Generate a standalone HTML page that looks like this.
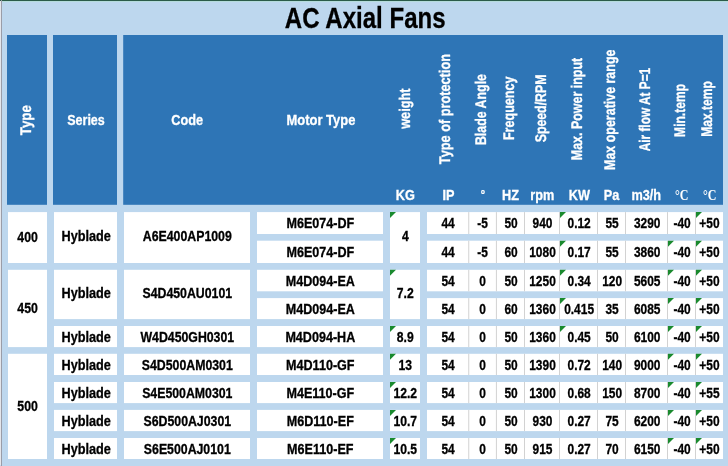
<!DOCTYPE html>
<html lang="en"><head><meta charset="utf-8"><title>AC Axial Fans</title>
<style>
html,body{margin:0;padding:0;background:#BDD7EE;}
body{width:728px;height:466px;overflow:hidden;}
svg{display:block;will-change:transform;}
text{text-anchor:middle;}
.b{font-family:"Liberation Sans",Arial,sans-serif;font-weight:bold;stroke-width:0.3px;}
.v{text-rendering:geometricPrecision;}
.s{font-family:"Liberation Serif","Times New Roman",serif;font-weight:bold;}
</style></head><body>
<svg width="728" height="466" viewBox="0 0 728 466">
<rect x="0" y="0" width="728" height="466" fill="#BDD7EE"/>
<rect x="0" y="0" width="728" height="1" fill="#2b5b49"/>
<rect x="0" y="1" width="728" height="1" fill="#b5dcdc"/>
<rect x="0" y="1" width="1" height="464" fill="#e4e6ec"/>
<rect x="1" y="0" width="1" height="466" fill="#9a9da8"/>
<rect x="7" y="35" width="40" height="169.8" fill="#2E75B6"/>
<rect x="53" y="35" width="64" height="169.8" fill="#2E75B6"/>
<rect x="123.2" y="35" width="599.8" height="169.8" fill="#2E75B6"/>
<text class="b" transform="translate(365.20 27.60) scale(0.823 1)" font-size="29.2" fill="#000" stroke="#000">AC Axial Fans</text>
<text class="b" transform="translate(86.00 124.90) scale(0.847 1)" font-size="14.8" fill="#fff" stroke="#fff">Series</text>
<text class="b" transform="translate(187.10 125.30) scale(0.86 1)" font-size="14.8" fill="#fff" stroke="#fff">Code</text>
<text class="b" transform="translate(320.90 125.30) scale(0.877 1)" font-size="14.8" fill="#fff" stroke="#fff">Motor Type</text>
<text class="b v" transform="translate(31.00 120.13) rotate(-90) scale(0.8648 1)" font-size="15.4" fill="#fff" stroke="#fff">Type</text>
<text class="b v" transform="translate(409.60 108.68) rotate(-90) scale(0.8244 1)" font-size="15.4" fill="#fff" stroke="#fff">weight</text>
<text class="b v" transform="translate(450.30 109.10) rotate(-90) scale(0.8269 1)" font-size="15.4" fill="#fff" stroke="#fff">Type of protection</text>
<text class="b v" transform="translate(486.10 109.56) rotate(-90) scale(0.8035 1)" font-size="15.4" fill="#fff" stroke="#fff">Blade Angle</text>
<text class="b v" transform="translate(514.20 108.30) rotate(-90) scale(0.8169 1)" font-size="15.4" fill="#fff" stroke="#fff">Frequency</text>
<text class="b v" transform="translate(546.30 108.45) rotate(-90) scale(0.8001 1)" font-size="15.4" fill="#fff" stroke="#fff">Speed/RPM</text>
<text class="b v" transform="translate(582.10 109.01) rotate(-90) scale(0.8097 1)" font-size="15.4" fill="#fff" stroke="#fff">Max. Power input</text>
<text class="b v" transform="translate(614.70 109.75) rotate(-90) scale(0.8086 1)" font-size="15.4" fill="#fff" stroke="#fff">Max operative range</text>
<text class="b v" transform="translate(650.20 109.58) rotate(-90) scale(0.7705 1)" font-size="15.4" fill="#fff" stroke="#fff">Air flow At P=1</text>
<text class="b v" transform="translate(684.60 110.44) rotate(-90) scale(0.7839 1)" font-size="15.4" fill="#fff" stroke="#fff">Min.temp</text>
<text class="b v" transform="translate(712.40 108.95) rotate(-90) scale(0.7866 1)" font-size="15.4" fill="#fff" stroke="#fff">Max.temp</text>
<text class="b" transform="translate(405.40 199.50) scale(0.89 1)" font-size="14.3" fill="#fff" stroke="#fff">KG</text>
<text class="b" transform="translate(448.40 199.50) scale(0.89 1)" font-size="14.3" fill="#fff" stroke="#fff">IP</text>
<text class="b" transform="translate(482.80 198.60) scale(0.9 1)" font-size="12" fill="#fff" stroke="#fff">°</text>
<text class="b" transform="translate(510.60 199.50) scale(0.89 1)" font-size="14.3" fill="#fff" stroke="#fff">HZ</text>
<text class="b" transform="translate(542.20 199.50) scale(0.89 1)" font-size="14.3" fill="#fff" stroke="#fff">rpm</text>
<text class="b" transform="translate(579.40 199.50) scale(0.89 1)" font-size="14.3" fill="#fff" stroke="#fff">KW</text>
<text class="b" transform="translate(611.60 199.50) scale(0.89 1)" font-size="14.3" fill="#fff" stroke="#fff">Pa</text>
<text class="b" transform="translate(646.20 199.50) scale(0.89 1)" font-size="14.3" fill="#fff" stroke="#fff">m3/h</text>
<text class="s" transform="translate(681.75 199.5) scale(0.86 1)" font-size="14" fill="#fff">°C</text>
<text class="s" transform="translate(709.75 199.5) scale(0.86 1)" font-size="14" fill="#fff">°C</text>
<rect x="8" y="212.1" width="39" height="50.9" fill="#fff"/>
<text class="b" transform="translate(27.60 241.70) scale(0.86 1)" font-size="14.3" fill="#000" stroke="#000">400</text>
<rect x="8" y="269.8" width="39" height="77.3" fill="#fff"/>
<text class="b" transform="translate(27.60 312.60) scale(0.86 1)" font-size="14.3" fill="#000" stroke="#000">450</text>
<rect x="8" y="353.8" width="39" height="105.2" fill="#fff"/>
<text class="b" transform="translate(27.60 410.55) scale(0.86 1)" font-size="14.3" fill="#000" stroke="#000">500</text>
<rect x="54" y="212.1" width="63" height="50.9" fill="#fff"/>
<text class="b" transform="translate(86.20 241.45) scale(0.89 1)" font-size="14.3" fill="#000" stroke="#000">Hyblade</text>
<rect x="124" y="212.1" width="126" height="50.9" fill="#fff"/>
<text class="b" transform="translate(187.30 241.45) scale(0.862 1)" font-size="14.3" fill="#000" stroke="#000">A6E400AP1009</text>
<rect x="390" y="212.1" width="30" height="50.9" fill="#fff"/>
<text class="b" transform="translate(405.30 241.45) scale(0.85 1)" font-size="14.3" fill="#000" stroke="#000">4</text>
<path d="M390 212.1h6l-6 6z" fill="#1a8a2e"/>
<rect x="54" y="269.8" width="63" height="49.3" fill="#fff"/>
<text class="b" transform="translate(86.20 298.35) scale(0.89 1)" font-size="14.3" fill="#000" stroke="#000">Hyblade</text>
<rect x="124" y="269.8" width="126" height="49.3" fill="#fff"/>
<text class="b" transform="translate(187.30 298.35) scale(0.862 1)" font-size="14.3" fill="#000" stroke="#000">S4D450AU0101</text>
<rect x="390" y="269.8" width="30" height="49.3" fill="#fff"/>
<text class="b" transform="translate(405.30 298.35) scale(0.85 1)" font-size="14.3" fill="#000" stroke="#000">7.2</text>
<path d="M390 269.8h6l-6 6z" fill="#1a8a2e"/>
<rect x="54" y="326" width="63" height="21.1" fill="#fff"/>
<text class="b" transform="translate(86.20 341.65) scale(0.89 1)" font-size="14.3" fill="#000" stroke="#000">Hyblade</text>
<rect x="124" y="326" width="126" height="21.1" fill="#fff"/>
<text class="b" transform="translate(187.30 341.65) scale(0.862 1)" font-size="14.3" fill="#000" stroke="#000">W4D450GH0301</text>
<rect x="390" y="326" width="30" height="21.1" fill="#fff"/>
<text class="b" transform="translate(405.30 341.65) scale(0.85 1)" font-size="14.3" fill="#000" stroke="#000">8.9</text>
<path d="M390 326h6l-6 6z" fill="#1a8a2e"/>
<rect x="54" y="353.8" width="63" height="21.2" fill="#fff"/>
<text class="b" transform="translate(86.20 369.50) scale(0.89 1)" font-size="14.3" fill="#000" stroke="#000">Hyblade</text>
<rect x="124" y="353.8" width="126" height="21.2" fill="#fff"/>
<text class="b" transform="translate(187.30 369.50) scale(0.862 1)" font-size="14.3" fill="#000" stroke="#000">S4D500AM0301</text>
<rect x="390" y="353.8" width="30" height="21.2" fill="#fff"/>
<text class="b" transform="translate(405.30 369.50) scale(0.85 1)" font-size="14.3" fill="#000" stroke="#000">13</text>
<path d="M390 353.8h6l-6 6z" fill="#1a8a2e"/>
<rect x="54" y="382" width="63" height="21.1" fill="#fff"/>
<text class="b" transform="translate(86.20 397.65) scale(0.89 1)" font-size="14.3" fill="#000" stroke="#000">Hyblade</text>
<rect x="124" y="382" width="126" height="21.1" fill="#fff"/>
<text class="b" transform="translate(187.30 397.65) scale(0.862 1)" font-size="14.3" fill="#000" stroke="#000">S4E500AM0301</text>
<rect x="390" y="382" width="30" height="21.1" fill="#fff"/>
<text class="b" transform="translate(405.30 397.65) scale(0.85 1)" font-size="14.3" fill="#000" stroke="#000">12.2</text>
<path d="M390 382h6l-6 6z" fill="#1a8a2e"/>
<rect x="54" y="409.9" width="63" height="21.2" fill="#fff"/>
<text class="b" transform="translate(86.20 425.60) scale(0.89 1)" font-size="14.3" fill="#000" stroke="#000">Hyblade</text>
<rect x="124" y="409.9" width="126" height="21.2" fill="#fff"/>
<text class="b" transform="translate(187.30 425.60) scale(0.862 1)" font-size="14.3" fill="#000" stroke="#000">S6D500AJ0301</text>
<rect x="390" y="409.9" width="30" height="21.2" fill="#fff"/>
<text class="b" transform="translate(405.30 425.60) scale(0.85 1)" font-size="14.3" fill="#000" stroke="#000">10.7</text>
<path d="M390 409.9h6l-6 6z" fill="#1a8a2e"/>
<rect x="54" y="438" width="63" height="21" fill="#fff"/>
<text class="b" transform="translate(86.20 453.60) scale(0.89 1)" font-size="14.3" fill="#000" stroke="#000">Hyblade</text>
<rect x="124" y="438" width="126" height="21" fill="#fff"/>
<text class="b" transform="translate(187.30 453.60) scale(0.862 1)" font-size="14.3" fill="#000" stroke="#000">S6E500AJ0101</text>
<rect x="390" y="438" width="30" height="21" fill="#fff"/>
<text class="b" transform="translate(405.30 453.60) scale(0.85 1)" font-size="14.3" fill="#000" stroke="#000">10.5</text>
<path d="M390 438h6l-6 6z" fill="#1a8a2e"/>
<rect x="257" y="212.1" width="126" height="21.9" fill="#fff"/>
<text class="b" transform="translate(320.30 228.15) scale(0.88 1)" font-size="14.3" fill="#000" stroke="#000">M6E074-DF</text>
<rect x="427" y="212.1" width="296" height="21.9" fill="#fff"/>
<text class="b" transform="translate(448.07 228.15) scale(0.835 1)" font-size="14.3" fill="#000" stroke="#000">44</text>
<text class="b" transform="translate(482.57 228.15) scale(0.835 1)" font-size="14.3" fill="#000" stroke="#000">-5</text>
<text class="b" transform="translate(511.05 228.15) scale(0.835 1)" font-size="14.3" fill="#000" stroke="#000">50</text>
<text class="b" transform="translate(542.50 228.15) scale(0.835 1)" font-size="14.3" fill="#000" stroke="#000">940</text>
<text class="b" transform="translate(579.10 228.15) scale(0.835 1)" font-size="14.3" fill="#000" stroke="#000">0.12</text>
<text class="b" transform="translate(612.10 228.15) scale(0.835 1)" font-size="14.3" fill="#000" stroke="#000">55</text>
<text class="b" transform="translate(647.20 228.15) scale(0.835 1)" font-size="14.3" fill="#000" stroke="#000">3290</text>
<text class="b" transform="translate(682.10 228.15) scale(0.835 1)" font-size="14.3" fill="#000" stroke="#000">-40</text>
<text class="b" transform="translate(709.45 228.15) scale(0.835 1)" font-size="14.3" fill="#000" stroke="#000">+50</text>
<rect x="468.25" y="212.1" width="1" height="21.9" fill="#d2d2d2"/>
<rect x="495.9" y="212.1" width="1" height="21.9" fill="#d2d2d2"/>
<rect x="524" y="212.1" width="1" height="21.9" fill="#d2d2d2"/>
<rect x="559" y="212.1" width="1" height="21.9" fill="#d2d2d2"/>
<rect x="597" y="212.1" width="1" height="21.9" fill="#d2d2d2"/>
<rect x="625" y="212.1" width="1" height="21.9" fill="#d2d2d2"/>
<rect x="667" y="212.1" width="1" height="21.9" fill="#d2d2d2"/>
<rect x="695" y="212.1" width="1" height="21.9" fill="#d2d2d2"/>
<path d="M560 212.1h6l-6 6z" fill="#1a8a2e"/>
<path d="M696 212.1h6l-6 6z" fill="#1a8a2e"/>
<rect x="257" y="240.7" width="126" height="22.3" fill="#fff"/>
<text class="b" transform="translate(320.30 256.95) scale(0.88 1)" font-size="14.3" fill="#000" stroke="#000">M6E074-DF</text>
<rect x="427" y="240.7" width="296" height="22.3" fill="#fff"/>
<text class="b" transform="translate(448.07 256.95) scale(0.835 1)" font-size="14.3" fill="#000" stroke="#000">44</text>
<text class="b" transform="translate(482.57 256.95) scale(0.835 1)" font-size="14.3" fill="#000" stroke="#000">-5</text>
<text class="b" transform="translate(511.05 256.95) scale(0.835 1)" font-size="14.3" fill="#000" stroke="#000">60</text>
<text class="b" transform="translate(542.50 256.95) scale(0.835 1)" font-size="14.3" fill="#000" stroke="#000">1080</text>
<text class="b" transform="translate(579.10 256.95) scale(0.835 1)" font-size="14.3" fill="#000" stroke="#000">0.17</text>
<text class="b" transform="translate(612.10 256.95) scale(0.835 1)" font-size="14.3" fill="#000" stroke="#000">55</text>
<text class="b" transform="translate(647.20 256.95) scale(0.835 1)" font-size="14.3" fill="#000" stroke="#000">3860</text>
<text class="b" transform="translate(682.10 256.95) scale(0.835 1)" font-size="14.3" fill="#000" stroke="#000">-40</text>
<text class="b" transform="translate(709.45 256.95) scale(0.835 1)" font-size="14.3" fill="#000" stroke="#000">+50</text>
<rect x="468.25" y="240.7" width="1" height="22.3" fill="#d2d2d2"/>
<rect x="495.9" y="240.7" width="1" height="22.3" fill="#d2d2d2"/>
<rect x="524" y="240.7" width="1" height="22.3" fill="#d2d2d2"/>
<rect x="559" y="240.7" width="1" height="22.3" fill="#d2d2d2"/>
<rect x="597" y="240.7" width="1" height="22.3" fill="#d2d2d2"/>
<rect x="625" y="240.7" width="1" height="22.3" fill="#d2d2d2"/>
<rect x="667" y="240.7" width="1" height="22.3" fill="#d2d2d2"/>
<rect x="695" y="240.7" width="1" height="22.3" fill="#d2d2d2"/>
<path d="M560 240.7h6l-6 6z" fill="#1a8a2e"/>
<path d="M668 240.7h6l-6 6z" fill="#1a8a2e"/>
<path d="M696 240.7h6l-6 6z" fill="#1a8a2e"/>
<rect x="257" y="269.8" width="126" height="21.5" fill="#fff"/>
<text class="b" transform="translate(320.30 285.65) scale(0.88 1)" font-size="14.3" fill="#000" stroke="#000">M4D094-EA</text>
<rect x="427" y="269.8" width="296" height="21.5" fill="#fff"/>
<text class="b" transform="translate(448.07 285.65) scale(0.835 1)" font-size="14.3" fill="#000" stroke="#000">54</text>
<text class="b" transform="translate(482.57 285.65) scale(0.835 1)" font-size="14.3" fill="#000" stroke="#000">0</text>
<text class="b" transform="translate(511.05 285.65) scale(0.835 1)" font-size="14.3" fill="#000" stroke="#000">50</text>
<text class="b" transform="translate(542.50 285.65) scale(0.835 1)" font-size="14.3" fill="#000" stroke="#000">1250</text>
<text class="b" transform="translate(579.10 285.65) scale(0.835 1)" font-size="14.3" fill="#000" stroke="#000">0.34</text>
<text class="b" transform="translate(612.10 285.65) scale(0.835 1)" font-size="14.3" fill="#000" stroke="#000">120</text>
<text class="b" transform="translate(647.20 285.65) scale(0.835 1)" font-size="14.3" fill="#000" stroke="#000">5605</text>
<text class="b" transform="translate(682.10 285.65) scale(0.835 1)" font-size="14.3" fill="#000" stroke="#000">-40</text>
<text class="b" transform="translate(709.45 285.65) scale(0.835 1)" font-size="14.3" fill="#000" stroke="#000">+50</text>
<rect x="468.25" y="269.8" width="1" height="21.5" fill="#d2d2d2"/>
<rect x="495.9" y="269.8" width="1" height="21.5" fill="#d2d2d2"/>
<rect x="524" y="269.8" width="1" height="21.5" fill="#d2d2d2"/>
<rect x="559" y="269.8" width="1" height="21.5" fill="#d2d2d2"/>
<rect x="597" y="269.8" width="1" height="21.5" fill="#d2d2d2"/>
<rect x="625" y="269.8" width="1" height="21.5" fill="#d2d2d2"/>
<rect x="667" y="269.8" width="1" height="21.5" fill="#d2d2d2"/>
<rect x="695" y="269.8" width="1" height="21.5" fill="#d2d2d2"/>
<path d="M560 269.8h6l-6 6z" fill="#1a8a2e"/>
<path d="M668 269.8h6l-6 6z" fill="#1a8a2e"/>
<path d="M696 269.8h6l-6 6z" fill="#1a8a2e"/>
<rect x="257" y="298.1" width="126" height="21" fill="#fff"/>
<text class="b" transform="translate(320.30 313.70) scale(0.88 1)" font-size="14.3" fill="#000" stroke="#000">M4D094-EA</text>
<rect x="427" y="298.1" width="296" height="21" fill="#fff"/>
<text class="b" transform="translate(448.07 313.70) scale(0.835 1)" font-size="14.3" fill="#000" stroke="#000">54</text>
<text class="b" transform="translate(482.57 313.70) scale(0.835 1)" font-size="14.3" fill="#000" stroke="#000">0</text>
<text class="b" transform="translate(511.05 313.70) scale(0.835 1)" font-size="14.3" fill="#000" stroke="#000">60</text>
<text class="b" transform="translate(542.50 313.70) scale(0.835 1)" font-size="14.3" fill="#000" stroke="#000">1360</text>
<text class="b" transform="translate(579.10 313.70) scale(0.835 1)" font-size="14.3" fill="#000" stroke="#000">0.415</text>
<text class="b" transform="translate(612.10 313.70) scale(0.835 1)" font-size="14.3" fill="#000" stroke="#000">35</text>
<text class="b" transform="translate(647.20 313.70) scale(0.835 1)" font-size="14.3" fill="#000" stroke="#000">6085</text>
<text class="b" transform="translate(682.10 313.70) scale(0.835 1)" font-size="14.3" fill="#000" stroke="#000">-40</text>
<text class="b" transform="translate(709.45 313.70) scale(0.835 1)" font-size="14.3" fill="#000" stroke="#000">+50</text>
<rect x="468.25" y="298.1" width="1" height="21" fill="#d2d2d2"/>
<rect x="495.9" y="298.1" width="1" height="21" fill="#d2d2d2"/>
<rect x="524" y="298.1" width="1" height="21" fill="#d2d2d2"/>
<rect x="559" y="298.1" width="1" height="21" fill="#d2d2d2"/>
<rect x="597" y="298.1" width="1" height="21" fill="#d2d2d2"/>
<rect x="625" y="298.1" width="1" height="21" fill="#d2d2d2"/>
<rect x="667" y="298.1" width="1" height="21" fill="#d2d2d2"/>
<rect x="695" y="298.1" width="1" height="21" fill="#d2d2d2"/>
<path d="M560 298.1h6l-6 6z" fill="#1a8a2e"/>
<path d="M668 298.1h6l-6 6z" fill="#1a8a2e"/>
<path d="M696 298.1h6l-6 6z" fill="#1a8a2e"/>
<rect x="257" y="326" width="126" height="21.1" fill="#fff"/>
<text class="b" transform="translate(320.30 341.65) scale(0.88 1)" font-size="14.3" fill="#000" stroke="#000">M4D094-HA</text>
<rect x="427" y="326" width="296" height="21.1" fill="#fff"/>
<text class="b" transform="translate(448.07 341.65) scale(0.835 1)" font-size="14.3" fill="#000" stroke="#000">54</text>
<text class="b" transform="translate(482.57 341.65) scale(0.835 1)" font-size="14.3" fill="#000" stroke="#000">0</text>
<text class="b" transform="translate(511.05 341.65) scale(0.835 1)" font-size="14.3" fill="#000" stroke="#000">50</text>
<text class="b" transform="translate(542.50 341.65) scale(0.835 1)" font-size="14.3" fill="#000" stroke="#000">1360</text>
<text class="b" transform="translate(579.10 341.65) scale(0.835 1)" font-size="14.3" fill="#000" stroke="#000">0.45</text>
<text class="b" transform="translate(612.10 341.65) scale(0.835 1)" font-size="14.3" fill="#000" stroke="#000">50</text>
<text class="b" transform="translate(647.20 341.65) scale(0.835 1)" font-size="14.3" fill="#000" stroke="#000">6100</text>
<text class="b" transform="translate(682.10 341.65) scale(0.835 1)" font-size="14.3" fill="#000" stroke="#000">-40</text>
<text class="b" transform="translate(709.45 341.65) scale(0.835 1)" font-size="14.3" fill="#000" stroke="#000">+50</text>
<rect x="468.25" y="326" width="1" height="21.1" fill="#d2d2d2"/>
<rect x="495.9" y="326" width="1" height="21.1" fill="#d2d2d2"/>
<rect x="524" y="326" width="1" height="21.1" fill="#d2d2d2"/>
<rect x="559" y="326" width="1" height="21.1" fill="#d2d2d2"/>
<rect x="597" y="326" width="1" height="21.1" fill="#d2d2d2"/>
<rect x="625" y="326" width="1" height="21.1" fill="#d2d2d2"/>
<rect x="667" y="326" width="1" height="21.1" fill="#d2d2d2"/>
<rect x="695" y="326" width="1" height="21.1" fill="#d2d2d2"/>
<path d="M560 326h6l-6 6z" fill="#1a8a2e"/>
<path d="M668 326h6l-6 6z" fill="#1a8a2e"/>
<path d="M696 326h6l-6 6z" fill="#1a8a2e"/>
<rect x="257" y="353.8" width="126" height="21.2" fill="#fff"/>
<text class="b" transform="translate(320.30 369.50) scale(0.88 1)" font-size="14.3" fill="#000" stroke="#000">M4D110-GF</text>
<rect x="427" y="353.8" width="296" height="21.2" fill="#fff"/>
<text class="b" transform="translate(448.07 369.50) scale(0.835 1)" font-size="14.3" fill="#000" stroke="#000">54</text>
<text class="b" transform="translate(482.57 369.50) scale(0.835 1)" font-size="14.3" fill="#000" stroke="#000">0</text>
<text class="b" transform="translate(511.05 369.50) scale(0.835 1)" font-size="14.3" fill="#000" stroke="#000">50</text>
<text class="b" transform="translate(542.50 369.50) scale(0.835 1)" font-size="14.3" fill="#000" stroke="#000">1390</text>
<text class="b" transform="translate(579.10 369.50) scale(0.835 1)" font-size="14.3" fill="#000" stroke="#000">0.72</text>
<text class="b" transform="translate(612.10 369.50) scale(0.835 1)" font-size="14.3" fill="#000" stroke="#000">140</text>
<text class="b" transform="translate(647.20 369.50) scale(0.835 1)" font-size="14.3" fill="#000" stroke="#000">9000</text>
<text class="b" transform="translate(682.10 369.50) scale(0.835 1)" font-size="14.3" fill="#000" stroke="#000">-40</text>
<text class="b" transform="translate(709.45 369.50) scale(0.835 1)" font-size="14.3" fill="#000" stroke="#000">+50</text>
<rect x="468.25" y="353.8" width="1" height="21.2" fill="#d2d2d2"/>
<rect x="495.9" y="353.8" width="1" height="21.2" fill="#d2d2d2"/>
<rect x="524" y="353.8" width="1" height="21.2" fill="#d2d2d2"/>
<rect x="559" y="353.8" width="1" height="21.2" fill="#d2d2d2"/>
<rect x="597" y="353.8" width="1" height="21.2" fill="#d2d2d2"/>
<rect x="625" y="353.8" width="1" height="21.2" fill="#d2d2d2"/>
<rect x="667" y="353.8" width="1" height="21.2" fill="#d2d2d2"/>
<rect x="695" y="353.8" width="1" height="21.2" fill="#d2d2d2"/>
<path d="M668 353.8h6l-6 6z" fill="#1a8a2e"/>
<path d="M696 353.8h6l-6 6z" fill="#1a8a2e"/>
<rect x="257" y="382" width="126" height="21.1" fill="#fff"/>
<text class="b" transform="translate(320.30 397.65) scale(0.88 1)" font-size="14.3" fill="#000" stroke="#000">M4E110-GF</text>
<rect x="427" y="382" width="296" height="21.1" fill="#fff"/>
<text class="b" transform="translate(448.07 397.65) scale(0.835 1)" font-size="14.3" fill="#000" stroke="#000">54</text>
<text class="b" transform="translate(482.57 397.65) scale(0.835 1)" font-size="14.3" fill="#000" stroke="#000">0</text>
<text class="b" transform="translate(511.05 397.65) scale(0.835 1)" font-size="14.3" fill="#000" stroke="#000">50</text>
<text class="b" transform="translate(542.50 397.65) scale(0.835 1)" font-size="14.3" fill="#000" stroke="#000">1300</text>
<text class="b" transform="translate(579.10 397.65) scale(0.835 1)" font-size="14.3" fill="#000" stroke="#000">0.68</text>
<text class="b" transform="translate(612.10 397.65) scale(0.835 1)" font-size="14.3" fill="#000" stroke="#000">150</text>
<text class="b" transform="translate(647.20 397.65) scale(0.835 1)" font-size="14.3" fill="#000" stroke="#000">8700</text>
<text class="b" transform="translate(682.10 397.65) scale(0.835 1)" font-size="14.3" fill="#000" stroke="#000">-40</text>
<text class="b" transform="translate(709.45 397.65) scale(0.835 1)" font-size="14.3" fill="#000" stroke="#000">+55</text>
<rect x="468.25" y="382" width="1" height="21.1" fill="#d2d2d2"/>
<rect x="495.9" y="382" width="1" height="21.1" fill="#d2d2d2"/>
<rect x="524" y="382" width="1" height="21.1" fill="#d2d2d2"/>
<rect x="559" y="382" width="1" height="21.1" fill="#d2d2d2"/>
<rect x="597" y="382" width="1" height="21.1" fill="#d2d2d2"/>
<rect x="625" y="382" width="1" height="21.1" fill="#d2d2d2"/>
<rect x="667" y="382" width="1" height="21.1" fill="#d2d2d2"/>
<rect x="695" y="382" width="1" height="21.1" fill="#d2d2d2"/>
<path d="M668 382h6l-6 6z" fill="#1a8a2e"/>
<path d="M696 382h6l-6 6z" fill="#1a8a2e"/>
<rect x="257" y="409.9" width="126" height="21.2" fill="#fff"/>
<text class="b" transform="translate(320.30 425.60) scale(0.88 1)" font-size="14.3" fill="#000" stroke="#000">M6D110-EF</text>
<rect x="427" y="409.9" width="296" height="21.2" fill="#fff"/>
<text class="b" transform="translate(448.07 425.60) scale(0.835 1)" font-size="14.3" fill="#000" stroke="#000">54</text>
<text class="b" transform="translate(482.57 425.60) scale(0.835 1)" font-size="14.3" fill="#000" stroke="#000">0</text>
<text class="b" transform="translate(511.05 425.60) scale(0.835 1)" font-size="14.3" fill="#000" stroke="#000">50</text>
<text class="b" transform="translate(542.50 425.60) scale(0.835 1)" font-size="14.3" fill="#000" stroke="#000">930</text>
<text class="b" transform="translate(579.10 425.60) scale(0.835 1)" font-size="14.3" fill="#000" stroke="#000">0.27</text>
<text class="b" transform="translate(612.10 425.60) scale(0.835 1)" font-size="14.3" fill="#000" stroke="#000">75</text>
<text class="b" transform="translate(647.20 425.60) scale(0.835 1)" font-size="14.3" fill="#000" stroke="#000">6200</text>
<text class="b" transform="translate(682.10 425.60) scale(0.835 1)" font-size="14.3" fill="#000" stroke="#000">-40</text>
<text class="b" transform="translate(709.45 425.60) scale(0.835 1)" font-size="14.3" fill="#000" stroke="#000">+50</text>
<rect x="468.25" y="409.9" width="1" height="21.2" fill="#d2d2d2"/>
<rect x="495.9" y="409.9" width="1" height="21.2" fill="#d2d2d2"/>
<rect x="524" y="409.9" width="1" height="21.2" fill="#d2d2d2"/>
<rect x="559" y="409.9" width="1" height="21.2" fill="#d2d2d2"/>
<rect x="597" y="409.9" width="1" height="21.2" fill="#d2d2d2"/>
<rect x="625" y="409.9" width="1" height="21.2" fill="#d2d2d2"/>
<rect x="667" y="409.9" width="1" height="21.2" fill="#d2d2d2"/>
<rect x="695" y="409.9" width="1" height="21.2" fill="#d2d2d2"/>
<path d="M668 409.9h6l-6 6z" fill="#1a8a2e"/>
<path d="M696 409.9h6l-6 6z" fill="#1a8a2e"/>
<rect x="257" y="438" width="126" height="21" fill="#fff"/>
<text class="b" transform="translate(320.30 453.60) scale(0.88 1)" font-size="14.3" fill="#000" stroke="#000">M6E110-EF</text>
<rect x="427" y="438" width="296" height="21" fill="#fff"/>
<text class="b" transform="translate(448.07 453.60) scale(0.835 1)" font-size="14.3" fill="#000" stroke="#000">54</text>
<text class="b" transform="translate(482.57 453.60) scale(0.835 1)" font-size="14.3" fill="#000" stroke="#000">0</text>
<text class="b" transform="translate(511.05 453.60) scale(0.835 1)" font-size="14.3" fill="#000" stroke="#000">50</text>
<text class="b" transform="translate(542.50 453.60) scale(0.835 1)" font-size="14.3" fill="#000" stroke="#000">915</text>
<text class="b" transform="translate(579.10 453.60) scale(0.835 1)" font-size="14.3" fill="#000" stroke="#000">0.27</text>
<text class="b" transform="translate(612.10 453.60) scale(0.835 1)" font-size="14.3" fill="#000" stroke="#000">70</text>
<text class="b" transform="translate(647.20 453.60) scale(0.835 1)" font-size="14.3" fill="#000" stroke="#000">6150</text>
<text class="b" transform="translate(682.10 453.60) scale(0.835 1)" font-size="14.3" fill="#000" stroke="#000">-40</text>
<text class="b" transform="translate(709.45 453.60) scale(0.835 1)" font-size="14.3" fill="#000" stroke="#000">+50</text>
<rect x="468.25" y="438" width="1" height="21" fill="#d2d2d2"/>
<rect x="495.9" y="438" width="1" height="21" fill="#d2d2d2"/>
<rect x="524" y="438" width="1" height="21" fill="#d2d2d2"/>
<rect x="559" y="438" width="1" height="21" fill="#d2d2d2"/>
<rect x="597" y="438" width="1" height="21" fill="#d2d2d2"/>
<rect x="625" y="438" width="1" height="21" fill="#d2d2d2"/>
<rect x="667" y="438" width="1" height="21" fill="#d2d2d2"/>
<rect x="695" y="438" width="1" height="21" fill="#d2d2d2"/>
<path d="M668 438h6l-6 6z" fill="#1a8a2e"/>
<path d="M696 438h6l-6 6z" fill="#1a8a2e"/>
</svg>
</body></html>
